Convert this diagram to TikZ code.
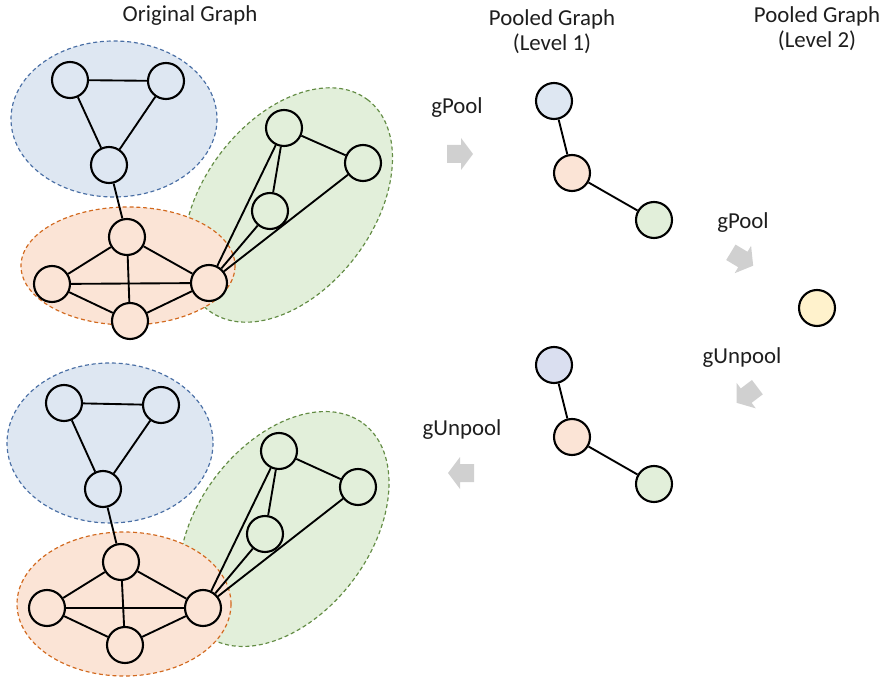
\documentclass[tikz,border=0pt]{standalone}
\usepackage{fontspec}
\setmainfont{Carlito}
\usetikzlibrary{positioning}

\definecolor{blueFill}{HTML}{DEE7F2}
\definecolor{blueEdge}{HTML}{4A6FA5}
\definecolor{blueNode}{HTML}{DADFF0}
\definecolor{orangeFill}{HTML}{FBE4D6}
\definecolor{orangeEdge}{HTML}{D2691E}
\definecolor{greenFill}{HTML}{E2EFDA}
\definecolor{greenEdge}{HTML}{638C44}
\definecolor{yellowFill}{HTML}{FFF2CC}
\definecolor{arrowGray}{HTML}{D0D0D0}
\definecolor{txtGray}{HTML}{1E1E1E}

\tikzset{
    vtx/.style={circle, draw, line width=1.8pt, minimum size=10.8mm, inner sep=0pt},
    lnk/.style={line width=1.6pt},
    cluster/.style={dashed, dash pattern=on 3.4pt off 2.4pt, line width=1pt},
    lbl/.style={text=txtGray, font=\fontsize{19.5}{21.5}\selectfont, align=center},
    blockarrow/.pic={\fill[arrowGray] (-13,-9) -- (1,-9) -- (1,-16) -- (13,0)
        -- (1,16) -- (1,9) -- (-13,9) -- cycle;}
}

\begin{document}
\begin{tikzpicture}[x=0.3mm, y=-0.3mm]
    \useasboundingbox (0,0) rectangle (887,680);

    % titles
    \node[lbl] (ttlorig) at (190,16) {Original Graph};
    \node[lbl] (ttlone) at (552,32) {Pooled Graph\\(Level 1)};
    \node[lbl] (ttltwo) at (817,29) {Pooled Graph\\(Level 2)};

    % original graph (top)
    \filldraw[cluster, fill=greenFill, draw=greenEdge, rotate around={53:(288,205)}]
        (288,205) ellipse [x radius=132, y radius=85];
    \filldraw[cluster, fill=blueFill, draw=blueEdge]
        (114,119) ellipse [x radius=103, y radius=78];
    \filldraw[cluster, fill=orangeFill, draw=orangeEdge]
        (128,266) ellipse [x radius=107, y radius=59];

    \node[vtx, fill=blueFill] (tb1) at (70,80) {};
    \node[vtx, fill=blueFill] (tb2) at (166,81) {};
    \node[vtx, fill=blueFill] (tb3) at (109,165) {};
    \node[vtx, fill=orangeFill] (to1) at (127,237) {};
    \node[vtx, fill=orangeFill] (to2) at (52,284) {};
    \node[vtx, fill=orangeFill] (to3) at (130,321) {};
    \node[vtx, fill=orangeFill] (to4) at (209,283) {};
    \node[vtx, fill=greenFill] (tg1) at (284,128) {};
    \node[vtx, fill=greenFill] (tg2) at (363,163) {};
    \node[vtx, fill=greenFill] (tg3) at (270,211) {};

    \draw[lnk] (tb1) -- (tb2) (tb1) -- (tb3) (tb2) -- (tb3) (tb3) -- (to1);
    \draw[lnk] (to1) -- (to2) (to1) -- (to3) (to1) -- (to4)
        (to2) -- (to4) (to2) -- (to3) (to3) -- (to4);
    \draw[lnk] (to4) -- (tg1) (to4) -- (tg3) (to4) -- (tg2)
        (tg1) -- (tg2) (tg1) -- (tg3);

    % original graph (bottom)
    \filldraw[cluster, fill=greenFill, draw=greenEdge, rotate around={53:(284,529)}]
        (284,529) ellipse [x radius=132, y radius=86];
    \filldraw[cluster, fill=blueFill, draw=blueEdge]
        (110,443) ellipse [x radius=103, y radius=80];
    \filldraw[cluster, fill=orangeFill, draw=orangeEdge]
        (124,604) ellipse [x radius=107, y radius=72];

    \node[vtx, fill=blueFill] (bb1) at (64,403) {};
    \node[vtx, fill=blueFill] (bb2) at (161,405) {};
    \node[vtx, fill=blueFill] (bb3) at (103,489) {};
    \node[vtx, fill=orangeFill] (bo1) at (121,562) {};
    \node[vtx, fill=orangeFill] (bo2) at (47,608) {};
    \node[vtx, fill=orangeFill] (bo3) at (125,645) {};
    \node[vtx, fill=orangeFill] (bo4) at (203,608) {};
    \node[vtx, fill=greenFill] (bg1) at (279,451) {};
    \node[vtx, fill=greenFill] (bg2) at (358,487) {};
    \node[vtx, fill=greenFill] (bg3) at (265,534) {};

    \draw[lnk] (bb1) -- (bb2) (bb1) -- (bb3) (bb2) -- (bb3) (bb3) -- (bo1);
    \draw[lnk] (bo1) -- (bo2) (bo1) -- (bo3) (bo1) -- (bo4)
        (bo2) -- (bo4) (bo2) -- (bo3) (bo3) -- (bo4);
    \draw[lnk] (bo4) -- (bg1) (bo4) -- (bg3) (bo4) -- (bg2)
        (bg1) -- (bg2) (bg1) -- (bg3);

    % pooled level 1
    \node[vtx, fill=blueFill] (p1b) at (554,101) {};
    \node[vtx, fill=orangeFill] (p1o) at (572,173) {};
    \node[vtx, fill=greenFill] (p1g) at (654,220) {};
    \draw[lnk] (p1b) -- (p1o) -- (p1g);

    \node[vtx, fill=blueNode] (u1b) at (554,365) {};
    \node[vtx, fill=orangeFill] (u1o) at (572,437) {};
    \node[vtx, fill=greenFill] (u1g) at (654,484) {};
    \draw[lnk] (u1b) -- (u1o) -- (u1g);

    % pooled level 2
    \node[vtx, fill=yellowFill] (p2) at (817,308) {};

    % operations
    \node[lbl] (poolone) at (457,108) {gPool};
    \pic at (460,154) {blockarrow};
    \node[lbl] (pooltwo) at (743,223) {gPool};
    \pic[rotate=-31] at (742,259) {blockarrow};
    \node[lbl] (unpooltwo) at (742,358) {gUnpool};
    \pic[rotate=217] at (747,395) {blockarrow};
    \node[lbl] (unpoolone) at (462,430) {gUnpool};
    \pic[rotate=180] at (461,473) {blockarrow};
\end{tikzpicture}
\end{document}
